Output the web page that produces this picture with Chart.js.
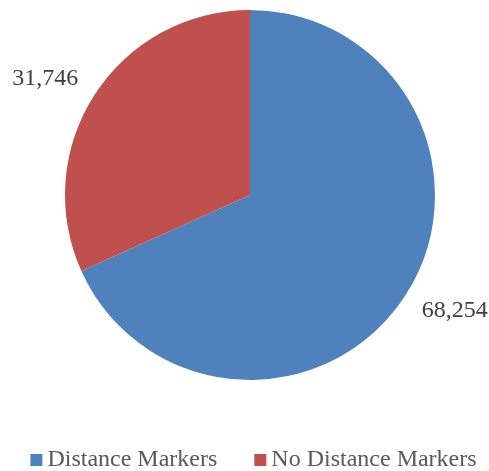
<!DOCTYPE html>
<html><head><meta charset="utf-8">
<script src="https://cdn.jsdelivr.net/npm/chart.js@4/dist/chart.umd.min.js"></script>
<style>html,body{margin:0;padding:0;background:#fff}#wrap{width:489px;height:471px}</style>
</head><body><div id="wrap"><canvas id="c" width="489" height="471"></canvas></div>
<script>
const categories = ["Distance Markers", "No Distance Markers"];
const values = [68254, 31746];
const valueLabels = ["68,254", "31,746"];
const colors = ["#4F81BD", "#C0504D"];

const serif = "'Liberation Serif', 'Times New Roman', serif";

const labelPlugin = {
  id: 'outLabels',
  afterDatasetsDraw(chart) {
    const ctx = chart.ctx;
    const meta = chart.getDatasetMeta(0);
    ctx.save();
    ctx.font = "24px " + serif;
    ctx.fillStyle = "#404040";
    ctx.textAlign = "center";
    ctx.textBaseline = "middle";
    meta.data.forEach((arc, i) => {
      const mid = (arc.startAngle + arc.endAngle) / 2;
      const r = arc.outerRadius + 29;
      const cx = Math.cos(mid), cy = Math.sin(mid);
      ctx.fillText(valueLabels[i], arc.x + cx * r + Math.sign(cx) * 25, arc.y + cy * r);
    });
    ctx.restore();
  }
};

const legendPlugin = {
  id: 'customLegend',
  afterDraw(chart) {
    const ctx = chart.ctx;
    ctx.save();
    ctx.font = "24px " + serif;
    ctx.textBaseline = "middle";
    const box = 12, gapBox = 5, gapItem = 37;
    const widths = categories.map(c => ctx.measureText(c).width);
    let total = 0;
    widths.forEach((w, i) => { total += box + gapBox + w + (i < widths.length - 1 ? gapItem : 0); });
    let x = (chart.width - total) / 2 + 9;
    const y = 460;
    categories.forEach((c, i) => {
      ctx.fillStyle = colors[i];
      ctx.fillRect(x, y - box / 2, box, box);
      x += box + gapBox;
      ctx.fillStyle = "#595959";
      ctx.fillText(c, x, y);
      x += widths[i] + gapItem;
    });
    ctx.restore();
  }
};

new Chart(document.getElementById('c'), {
  type: 'pie',
  data: {
    labels: categories,
    datasets: [{ data: values, backgroundColor: colors, borderWidth: 0 }]
  },
  options: {
    responsive: false,
    animation: false,
    layout: { padding: { top: 10, bottom: 91, left: 65, right: 54 } },
    plugins: { legend: { display: false }, tooltip: { enabled: false } }
  },
  plugins: [labelPlugin, legendPlugin]
});
</script></body></html>
